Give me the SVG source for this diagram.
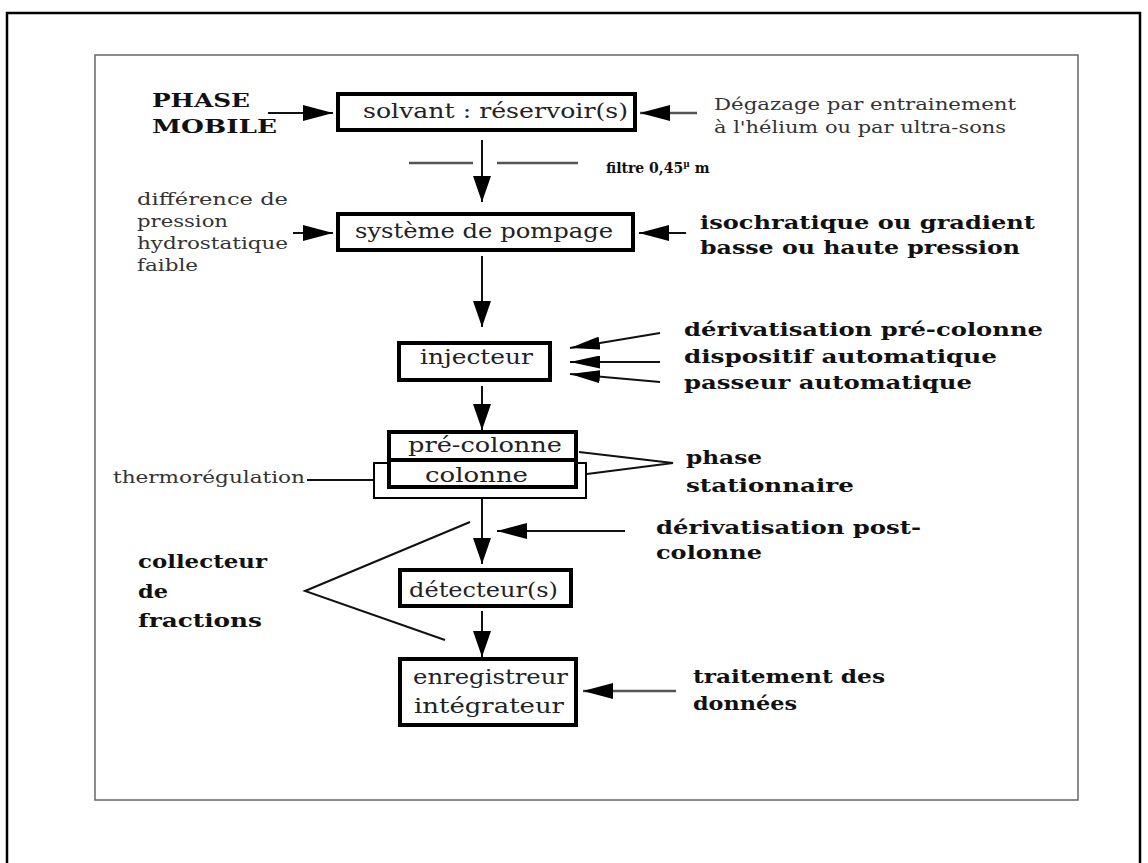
<svg xmlns="http://www.w3.org/2000/svg" width="1148" height="863" viewBox="0 0 1148 863">
<style>
.box{fill:#fff;stroke:#000;stroke-width:4}
.thin{fill:none;stroke:#000;stroke-width:2}
.ln{fill:none;stroke:#111;stroke-width:2}
.gl{fill:none;stroke:#555;stroke-width:2.5}
.bt{font-family:"DejaVu Serif","Liberation Serif",serif;font-size:21px;fill:#222}
.rt{font-family:"DejaVu Serif","Liberation Serif",serif;font-size:16px;fill:#333}
.bd{font-family:"DejaVu Serif","Liberation Serif",serif;font-size:19px;font-weight:bold;fill:#111}
</style>
<defs>
<marker id="ah" viewBox="0 0 30 16" refX="30" refY="8" markerWidth="30" markerHeight="16" markerUnits="userSpaceOnUse" orient="auto"><path d="M0,0 L30,8 L0,16 z" fill="#000"/></marker>
<marker id="av" viewBox="0 0 26 18" refX="26" refY="9" markerWidth="26" markerHeight="18" markerUnits="userSpaceOnUse" orient="auto"><path d="M0,0 L26,9 L0,18 z" fill="#000"/></marker>
<marker id="as" viewBox="0 0 30 13" refX="30" refY="6.5" markerWidth="30" markerHeight="13" markerUnits="userSpaceOnUse" orient="auto"><path d="M0,0 L30,6.5 L0,13 z" fill="#000"/></marker>
</defs>
<rect width="1148" height="863" fill="#fff"/>
<path d="M7,863 V13 H1140 V863" fill="none" stroke="#000" stroke-width="2.5"/>
<rect x="95" y="55" width="983" height="745" fill="none" stroke="#666" stroke-width="1.5"/>

<g id="connectors">
<line class="ln" x1="268" y1="113" x2="333" y2="113" marker-end="url(#ah)"/>
<line class="gl" x1="697" y1="113" x2="640" y2="113" marker-end="url(#ah)"/>
<line class="ln" x1="482" y1="140" x2="482" y2="202" marker-end="url(#av)"/>
<line class="gl" x1="409" y1="163" x2="473" y2="163"/>
<line class="gl" x1="497" y1="163" x2="578" y2="163"/>
<line class="ln" x1="293" y1="233" x2="333" y2="233" marker-end="url(#ah)"/>
<line class="ln" x1="686" y1="233" x2="639" y2="233" marker-end="url(#ah)"/>
<line class="ln" x1="482" y1="256" x2="482" y2="327" marker-end="url(#av)"/>
<line class="ln" x1="660" y1="333" x2="570" y2="348" marker-end="url(#as)"/>
<line class="ln" x1="660" y1="362" x2="570" y2="362" marker-end="url(#as)"/>
<line class="ln" x1="660" y1="382" x2="570" y2="374" marker-end="url(#as)"/>
<line class="ln" x1="482" y1="386" x2="482" y2="430" marker-end="url(#av)"/>
<polyline class="ln" points="579,452 673,463 587,474"/>
<line class="ln" x1="307" y1="480" x2="373" y2="480"/>
<line class="ln" x1="482" y1="499" x2="482" y2="564" marker-end="url(#av)"/>
<line class="ln" x1="625" y1="531" x2="497" y2="531" marker-end="url(#ah)"/>
<polyline class="ln" points="470,522 305,591 445,640"/>
<line class="ln" x1="482" y1="611" x2="482" y2="657" marker-end="url(#av)"/>
<line class="gl" x1="676" y1="691" x2="583" y2="691" marker-end="url(#ah)"/>
</g>

<g id="solvant">
<rect class="box" x="338" y="94" width="297" height="36"/>
<text class="bt" x="363" y="118" textLength="265" lengthAdjust="spacingAndGlyphs">solvant : réservoir(s)</text>
</g>
<g id="pompage">
<rect class="box" x="338" y="214" width="295" height="36"/>
<text class="bt" x="355" y="238" textLength="258" lengthAdjust="spacingAndGlyphs">système de pompage</text>
</g>
<g id="injecteur">
<rect class="box" x="399" y="343" width="151" height="37"/>
<text class="bt" x="420" y="364" textLength="113" lengthAdjust="spacingAndGlyphs">injecteur</text>
</g>
<g id="thermo">
<rect class="thin" x="374" y="463" width="212" height="35"/>
</g>
<g id="precolonne">
<rect class="box" x="389" y="432" width="187" height="28"/>
<text class="bt" x="408" y="452" textLength="154" lengthAdjust="spacingAndGlyphs">pré-colonne</text>
</g>
<g id="colonne">
<rect class="box" x="389" y="460" width="187" height="27"/>
<text class="bt" x="425" y="482" textLength="103" lengthAdjust="spacingAndGlyphs">colonne</text>
</g>
<g id="detecteur">
<rect class="box" x="400" y="570" width="171" height="36"/>
<text class="bt" x="409" y="597" textLength="149" lengthAdjust="spacingAndGlyphs">détecteur(s)</text>
</g>
<g id="enregistreur">
<rect class="box" x="400" y="659" width="176" height="66"/>
<text class="bt" x="413" y="684" textLength="155" lengthAdjust="spacingAndGlyphs">enregistreur</text>
<text class="bt" x="414" y="713" textLength="150" lengthAdjust="spacingAndGlyphs">intégrateur</text>
</g>

<g id="phase-mobile">
<text class="bd" x="152" y="107" font-size="20" textLength="98" lengthAdjust="spacingAndGlyphs">PHASE</text>
<text class="bd" x="152" y="133" font-size="20" textLength="125" lengthAdjust="spacingAndGlyphs">MOBILE</text>
</g>
<g id="degazage">
<text class="rt" x="714" y="110" textLength="302" lengthAdjust="spacingAndGlyphs">Dégazage par entrainement</text>
<text class="rt" x="714" y="133" textLength="292" lengthAdjust="spacingAndGlyphs">à l'hélium ou par ultra-sons</text>
</g>
<g id="filtre">
<text class="bd" x="606" y="173" style="font-size:14px">filtre 0,45<tspan dy="-6" style="font-size:9px">µ</tspan><tspan dy="6"> m</tspan></text>
</g>
<g id="difference">
<text class="rt" x="137" y="205" textLength="151" lengthAdjust="spacingAndGlyphs">différence de</text>
<text class="rt" x="137" y="227" textLength="91" lengthAdjust="spacingAndGlyphs">pression</text>
<text class="rt" x="137" y="249" textLength="151" lengthAdjust="spacingAndGlyphs">hydrostatique</text>
<text class="rt" x="137" y="271" textLength="61" lengthAdjust="spacingAndGlyphs">faible</text>
</g>
<g id="isochratique">
<text class="bd" x="700" y="229" textLength="335" lengthAdjust="spacingAndGlyphs">isochratique ou gradient</text>
<text class="bd" x="700" y="254" textLength="320" lengthAdjust="spacingAndGlyphs">basse ou haute pression</text>
</g>
<g id="derivatisation-pre">
<text class="bd" x="684" y="336" textLength="359" lengthAdjust="spacingAndGlyphs">dérivatisation pré-colonne</text>
<text class="bd" x="684" y="363" textLength="313" lengthAdjust="spacingAndGlyphs">dispositif automatique</text>
<text class="bd" x="684" y="389" textLength="288" lengthAdjust="spacingAndGlyphs">passeur automatique</text>
</g>
<g id="phase-stationnaire">
<text class="bd" x="686" y="464" textLength="76" lengthAdjust="spacingAndGlyphs">phase</text>
<text class="bd" x="686" y="492" textLength="168" lengthAdjust="spacingAndGlyphs">stationnaire</text>
</g>
<g id="thermoregulation">
<text class="rt" x="113" y="483" textLength="192" lengthAdjust="spacingAndGlyphs">thermorégulation</text>
</g>
<g id="derivatisation-post">
<text class="bd" x="656" y="534" textLength="265" lengthAdjust="spacingAndGlyphs">dérivatisation post-</text>
<text class="bd" x="656" y="559" textLength="106" lengthAdjust="spacingAndGlyphs">colonne</text>
</g>
<g id="collecteur">
<text class="bd" x="138" y="568" textLength="129" lengthAdjust="spacingAndGlyphs">collecteur</text>
<text class="bd" x="138" y="598" textLength="30" lengthAdjust="spacingAndGlyphs">de</text>
<text class="bd" x="138" y="627" textLength="124" lengthAdjust="spacingAndGlyphs">fractions</text>
</g>
<g id="traitement">
<text class="bd" x="693" y="683" textLength="192" lengthAdjust="spacingAndGlyphs">traitement des</text>
<text class="bd" x="693" y="710" textLength="104" lengthAdjust="spacingAndGlyphs">données</text>
</g>
</svg>
